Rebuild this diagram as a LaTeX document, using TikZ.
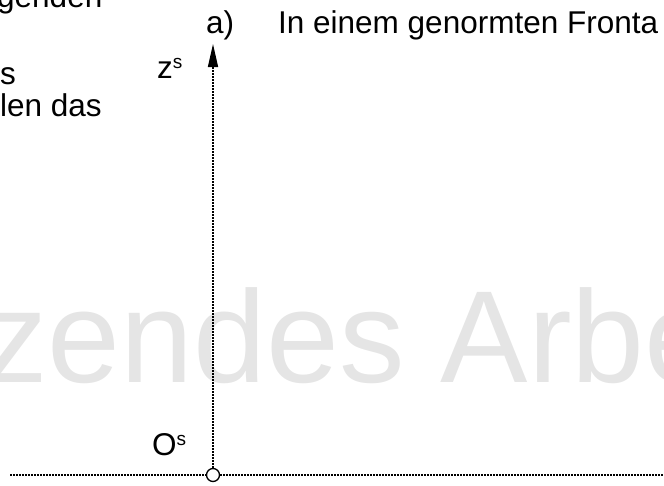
\documentclass[tikz,border=0pt]{standalone}
\usepackage{fontspec}
\setmainfont{Liberation Sans}
\usetikzlibrary{arrows.meta}
\tikzset{
  lbl/.style={inner sep=0pt, anchor=base west, font=\fontsize{31.5}{36}\selectfont},
  wm/.style={inner sep=0pt, anchor=base west, text=black!10, font=\fontsize{131}{140}\selectfont},
  axis/.style={line width=1.5pt, dash pattern=on 1.5pt off 1.5pt},
  origin/.style={circle, draw, fill=white, line width=1.3pt, minimum size=13pt, inner sep=0pt}
}
\newcommand{\supS}{\raisebox{10pt}{\fontsize{19}{19}\selectfont s}}
\begin{document}
\begin{tikzpicture}[x=1pt,y=-1pt]
\useasboundingbox (0,0) rectangle (664,485);
\node[wm] (wmk) at (-18,382) {zendes Arbe};
\node[lbl] (t1) at (-3,7) {genden};
\node[lbl] (t2) at (0,84) {s};
\node[lbl] (t3) at (0,116) {len das};
\node[lbl] (la) at (206,33) {a)};
\node[lbl] (title) at (278,33) {In einem genormten Fronta};
\node[lbl] (zs) at (157,78) {z\supS};
\node[lbl] (os) at (152,455) {O\supS};
\coordinate (xl) at (10,475);
\coordinate (xr) at (670,475);
\coordinate (zt) at (213,44);
\draw[axis] (xl) -- (xr);
\node[origin] (O) at (213,475) {};
\draw[axis] (O.north) -- (213,68);
\draw[-{Triangle[length=23pt,width=10pt]}, line width=1.5pt] (213,69) -- (zt);
\end{tikzpicture}
\end{document}
